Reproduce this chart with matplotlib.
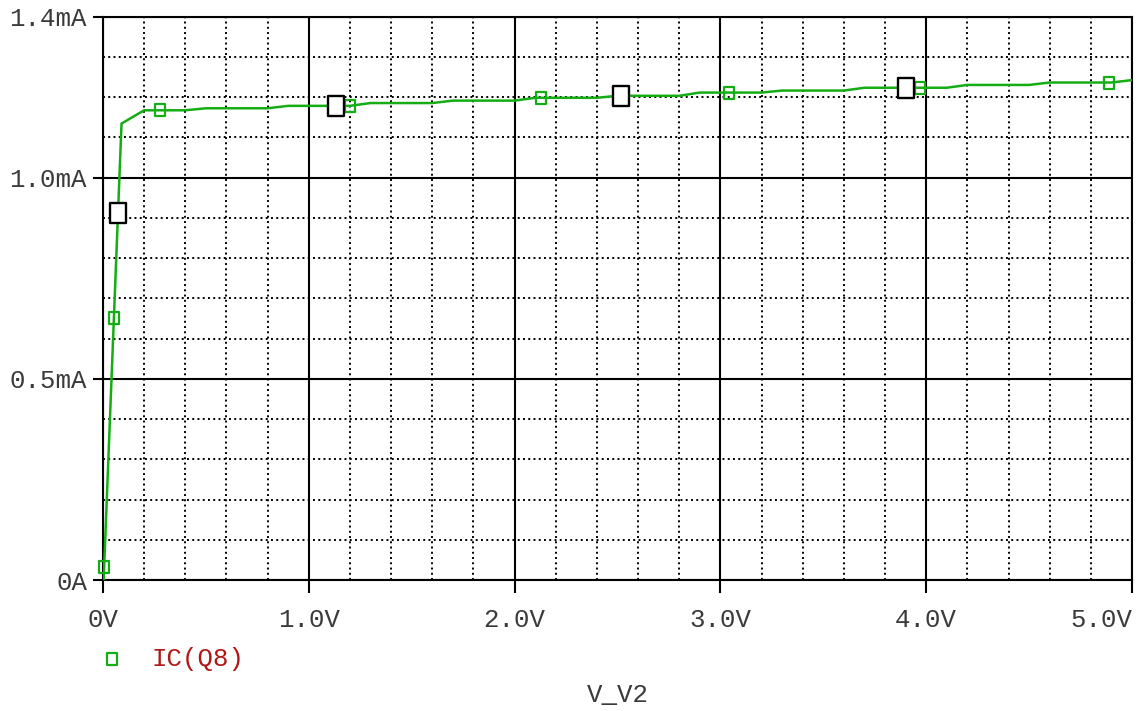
import numpy as np
import matplotlib
matplotlib.use("Agg")
import matplotlib.pyplot as plt
from matplotlib.path import Path
from matplotlib.lines import Line2D
from matplotlib.ticker import FixedLocator

# Sweep of V_V2 (volts) and collector current IC(Q8) (mA)
v_v2 = [0.0, 0.09, 0.2, 0.4, 0.5, 0.8, 0.9, 1.2, 1.3, 1.6, 1.7, 2.0, 2.1, 2.4,
        2.5, 2.8, 2.9, 3.2, 3.3, 3.6, 3.7, 4.1, 4.2, 4.5, 4.6, 4.9, 5.0]
ic_q8 = [-0.04, 1.134, 1.167, 1.167, 1.172, 1.172, 1.178, 1.178, 1.185, 1.185,
         1.191, 1.191, 1.198, 1.198, 1.203, 1.203, 1.211, 1.211, 1.216, 1.216,
         1.223, 1.223, 1.230, 1.230, 1.236, 1.236, 1.242]

# Data-point symbols along the trace and the cursor boxes
symbol_v = [0.0055, 0.053, 0.277, 1.199, 2.126, 3.044, 3.971, 4.888]
cursor_v = [0.073, 1.131, 2.515, 3.903]

x_ticks = [0.0, 1.0, 2.0, 3.0, 4.0, 5.0]
x_labels = ["0V", "1.0V", "2.0V", "3.0V", "4.0V", "5.0V"]
y_ticks = [0.0, 0.5, 1.0, 1.4]
y_labels = ["0A", "0.5mA", "1.0mA", "1.4mA"]

GREEN = "#14ad14"
TEXT = "#3a3a3a"
RED = "#b01818"
FONT = "Liberation Mono"

W, H = 1139, 711
fig = plt.figure(figsize=(W / 100, H / 100), dpi=100)
ax = fig.add_axes([103 / W, 1 - 580 / H, (1132 - 103) / W, (580 - 16.5) / H])

# Tall rectangle symbol
rect = Path([(-0.39, -0.5), (0.39, -0.5), (0.39, 0.5), (-0.39, 0.5), (-0.39, -0.5)],
            [Path.MOVETO, Path.LINETO, Path.LINETO, Path.LINETO, Path.CLOSEPOLY])

ax.set_xlim(0, 5.0)
ax.set_ylim(0, 1.4)

# Grid: solid major lines, dotted minor lines
ax.xaxis.set_major_locator(FixedLocator(x_ticks))
ax.yaxis.set_major_locator(FixedLocator(y_ticks))
minor_x = [round(0.2 * i, 2) for i in range(1, 25) if i % 5 != 0]
minor_y = [round(0.1 * i, 2) for i in range(1, 14) if i % 5 != 0]
ax.xaxis.set_minor_locator(FixedLocator(minor_x))
ax.yaxis.set_minor_locator(FixedLocator(minor_y))
ax.grid(which="major", color="black", linewidth=1.5, linestyle="-")
ax.grid(which="minor", color="black", linewidth=1.4, linestyle=(0, (1, 1.7)),
        dash_capstyle="butt")
ax.set_axisbelow(True)

ax.set_xticklabels(x_labels)
ax.set_yticklabels(y_labels)
ax.tick_params(which="minor", length=0)
ax.tick_params(axis="y", which="major", length=7.5, width=1.5, pad=4,
               labelsize=18.5, labelcolor=TEXT, direction="out")
ax.tick_params(axis="x", which="major", length=9, width=1.5, pad=11,
               labelsize=18.5, labelcolor=TEXT, direction="out")
for lbl in ax.get_xticklabels() + ax.get_yticklabels():
    lbl.set_fontfamily(FONT)
ax.get_xticklabels()[-1].set_horizontalalignment("right")

for s in ax.spines.values():
    s.set_linewidth(1.5)
    s.set_color("black")

# Trace
ax.plot(v_v2, ic_q8, color=GREEN, linewidth=1.8, zorder=3)
sym_i = np.interp(symbol_v, v_v2, ic_q8)
ax.plot(symbol_v, sym_i, linestyle="none", marker=rect, markersize=9,
        markerfacecolor="none", markeredgecolor=GREEN, markeredgewidth=1.6,
        zorder=4, clip_on=False)
cur_i = np.interp(cursor_v, v_v2, ic_q8)
ax.plot(cursor_v, cur_i, linestyle="none", marker=rect, markersize=14.5,
        markerfacecolor="white", markeredgecolor="black", markeredgewidth=1.7,
        zorder=5, clip_on=False)

# Legend entry and axis title
fig.add_artist(Line2D([112 / W], [1 - 659 / H], marker=rect, markersize=9,
                      markerfacecolor="none", markeredgecolor=GREEN,
                      markeredgewidth=1.6, linestyle="none",
                      transform=fig.transFigure))
fig.text(152 / W, 1 - 659 / H, "IC(Q8)", color=RED, fontsize=18.5,
         family=FONT, ha="left", va="center")
fig.text(617.5 / W, 1 - 695 / H, "V_V2", color=TEXT, fontsize=18.5,
         family=FONT, ha="center", va="center")

fig.savefig("out.png", dpi=100, facecolor="white")
